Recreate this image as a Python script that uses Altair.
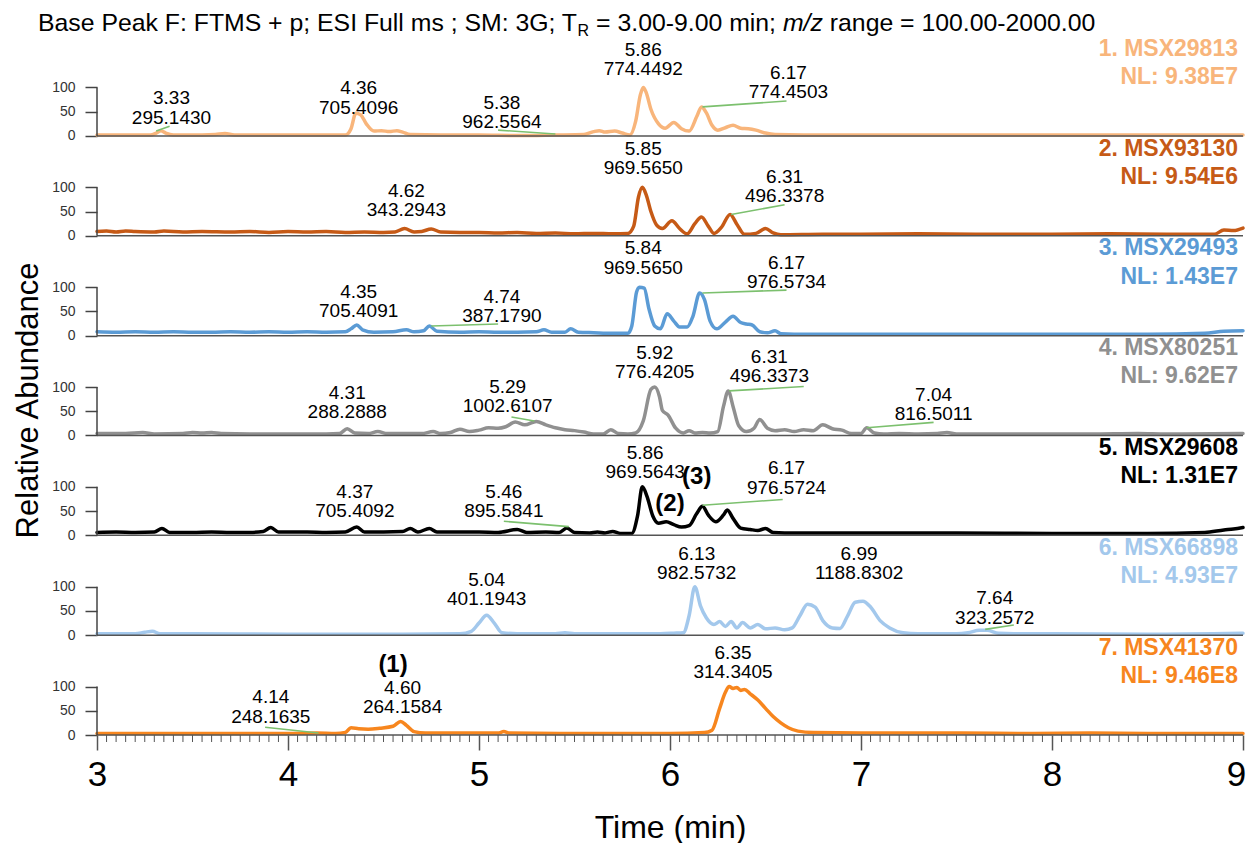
import altair as alt
import pandas as pd

FONT = "Liberation Sans"
S = 206            # data units between panel baselines
W, H = 1146, 695   # plot area
YTOP = 1434

# ---- chromatogram traces: (time, relative abundance) ----
P1 = [(3.00,2),(3.10,2),(3.20,2),(3.28,2),(3.31,6),(3.335,11),(3.36,6),(3.40,2),(3.55,2),(3.62,3),
      (3.67,5),(3.72,2),(3.90,2),(4.10,2),(4.30,2),(4.33,15),(4.355,47),(4.38,44),(4.41,25),(4.45,10),
      (4.49,11),(4.53,9),(4.57,11),(4.60,8),(4.64,3),(4.80,2),(5.00,2),(5.20,1),(5.40,2),(5.55,3),
      (5.60,9),(5.63,11),(5.66,8),(5.71,10),(5.75,6),(5.79,2),(5.82,30),(5.845,85),(5.86,100),(5.875,90),
      (5.90,55),(5.94,25),(5.975,16),(6.02,28),(6.06,15),(6.10,10),(6.14,40),(6.165,60),(6.19,48),(6.22,22),
      (6.25,12),(6.29,17),(6.33,22),(6.37,16),(6.41,15),(6.45,12),(6.50,6),(6.55,3),(6.70,2),(7.00,2),
      (7.50,2),(8.00,2),(8.50,2),(9.00,2)]
P2 = [(3.00,9),(3.05,10),(3.10,8),(3.15,10),(3.20,9),(3.30,8),(3.35,10),(3.45,8),(3.55,9),(3.70,8),
      (3.80,9),(3.90,7),(4.00,9),(4.10,8),(4.20,9),(4.30,7),(4.40,8),(4.50,7),(4.56,8),(4.61,15),
      (4.66,8),(4.70,9),(4.75,14),(4.80,8),(4.90,7),(5.00,7),(5.10,6),(5.20,7),(5.30,5),(5.40,6),
      (5.50,4),(5.60,5),(5.70,4),(5.78,5),(5.81,20),(5.835,80),(5.855,100),(5.875,85),(5.90,50),(5.93,22),
      (5.96,15),(6.01,31),(6.05,15),(6.09,4),(6.13,25),(6.165,39),(6.20,20),(6.23,5),(6.27,18),(6.315,44),
      (6.35,24),(6.39,3),(6.45,5),(6.50,15),(6.54,6),(6.58,2),(6.80,3),(7.00,3),(7.30,4),(7.60,3),
      (8.00,3),(8.30,4),(8.60,3),(8.85,3),(8.90,12),(8.95,11),(9.00,16)]
P3 = [(3.00,8),(3.10,7),(3.20,8),(3.30,7),(3.40,8),(3.50,7),(3.60,7),(3.70,8),(3.80,7),(3.90,8),
      (4.00,7),(4.10,8),(4.20,7),(4.30,8),(4.33,14),(4.36,22),(4.39,12),(4.45,7),(4.55,8),(4.62,12),
      (4.66,8),(4.71,10),(4.74,20),(4.78,9),(4.90,7),(5.00,8),(5.10,7),(5.20,7),(5.30,8),(5.34,12),
      (5.38,7),(5.45,7),(5.48,14),(5.52,7),(5.60,6),(5.70,5),(5.78,5),(5.80,20),(5.825,90),(5.84,100),
      (5.865,98),(5.89,55),(5.92,20),(5.95,14),(5.985,45),(6.02,30),(6.05,18),(6.09,18),(6.12,40),(6.155,88),
      (6.18,75),(6.21,30),(6.245,14),(6.29,28),(6.33,40),(6.37,27),(6.40,24),(6.43,22),(6.47,8),(6.51,6),
      (6.55,10),(6.58,4),(6.65,3),(7.00,3),(7.50,3),(8.00,3),(8.50,3),(8.80,5),(8.90,9),(9.00,10)]
P4 = [(3.00,4),(3.15,4),(3.24,6),(3.30,3),(3.45,4),(3.50,6),(3.55,5),(3.60,6),(3.65,4),(3.80,3),
      (4.00,3),(4.20,3),(4.27,4),(4.31,14),(4.35,5),(4.42,4),(4.47,8),(4.52,4),(4.70,4),(4.76,8),
      (4.80,4),(4.85,6),(4.90,13),(4.95,8),(5.00,11),(5.05,16),(5.10,15),(5.14,18),(5.19,28),(5.24,22),
      (5.30,29),(5.35,22),(5.40,16),(5.45,12),(5.50,10),(5.55,7),(5.60,3),(5.65,3),(5.69,12),(5.73,4),
      (5.78,3),(5.82,5),(5.86,30),(5.90,95),(5.92,100),(5.945,80),(5.96,52),(5.99,42),(6.03,15),(6.07,5),
      (6.10,10),(6.13,5),(6.17,6),(6.21,5),(6.25,8),(6.28,60),(6.305,92),(6.33,60),(6.36,20),(6.40,8),
      (6.44,15),(6.47,33),(6.51,15),(6.55,10),(6.60,12),(6.65,8),(6.70,12),(6.75,10),(6.80,22),(6.85,14),
      (6.90,11),(6.95,4),(7.00,4),(7.03,16),(7.07,5),(7.12,3),(7.20,4),(7.30,3),(7.40,4),(7.45,6),
      (7.50,3),(7.80,3),(8.20,3),(8.45,4),(8.60,3),(9.00,4)]
P5 = [(3.00,6),(3.10,7),(3.20,6),(3.30,7),(3.34,14),(3.38,6),(3.50,6),(3.60,7),(3.70,6),(3.80,6),
      (3.87,8),(3.91,16),(3.95,7),(4.10,7),(4.20,6),(4.30,7),(4.36,17),(4.40,7),(4.50,7),(4.60,8),
      (4.64,14),(4.68,7),(4.74,14),(4.78,7),(4.90,7),(5.00,7),(5.10,6),(5.20,12),(5.25,6),(5.35,7),
      (5.42,6),(5.46,15),(5.50,6),(5.58,5),(5.62,7),(5.66,5),(5.70,8),(5.74,4),(5.80,4),(5.83,40),
      (5.855,100),(5.88,80),(5.91,40),(5.94,25),(5.98,28),(6.02,22),(6.06,17),(6.10,20),(6.14,45),(6.17,60),
      (6.20,42),(6.24,28),(6.28,42),(6.30,52),(6.33,35),(6.37,15),(6.42,12),(6.46,10),(6.50,14),(6.54,6),
      (6.60,5),(7.00,5),(7.50,5),(8.00,4),(8.50,4),(8.80,6),(8.90,11),(8.95,13),(9.00,16)]
P6 = [(3.00,3),(3.20,3),(3.25,6),(3.29,8),(3.33,3),(3.50,3),(4.00,2),(4.50,2),(4.90,3),(4.96,8),
      (5.00,25),(5.04,41),(5.08,25),(5.12,5),(5.20,3),(5.40,3),(5.45,5),(5.50,3),(5.80,3),(5.95,3),
      (6.02,4),(6.07,5),(6.10,40),(6.13,100),(6.16,60),(6.19,36),(6.23,22),(6.26,28),(6.29,18),(6.32,28),
      (6.35,15),(6.38,26),(6.42,15),(6.46,22),(6.50,13),(6.55,15),(6.60,11),(6.64,15),(6.68,40),(6.72,64),
      (6.76,58),(6.80,30),(6.85,15),(6.89,14),(6.93,40),(6.97,68),(7.01,70),(7.05,58),(7.10,30),(7.15,15),
      (7.22,5),(7.30,3),(7.50,3),(7.56,5),(7.62,10),(7.66,10),(7.72,4),(7.80,3),(8.00,3),(8.50,2),(9.00,4)]
P7 = [(3.00,3),(3.50,3),(4.00,3),(4.15,4),(4.25,3),(4.30,5),(4.33,15),(4.37,13),(4.42,12),(4.48,14),
      (4.55,18),(4.59,28),(4.62,20),(4.66,7),(4.72,4),(5.00,4),(5.10,4),(5.13,7),(5.16,4),(5.50,3),
      (6.00,3),(6.18,5),(6.22,10),(6.26,55),(6.29,88),(6.31,100),(6.33,96),(6.35,98),(6.37,92),(6.39,94),
      (6.42,85),(6.46,72),(6.50,55),(6.54,38),(6.58,25),(6.62,15),(6.67,8),(6.75,5),(7.00,4),(7.50,4),
      (7.90,3),(8.20,4),(8.50,3),(9.00,3)]
TRACES = [P1, P2, P3, P4, P5, P6, P7]

NAMES = ["1. MSX29813", "2. MSX93130", "3. MSX29493", "4. MSX80251",
         "5. MSX29608", "6. MSX66898", "7. MSX41370"]
NLS = ["NL: 9.38E7", "NL: 9.54E6", "NL: 1.43E7", "NL: 9.62E7",
       "NL: 1.31E7", "NL: 4.93E7", "NL: 9.46E8"]
COLORS = ["#F8B57B", "#C65A16", "#5B9BD5", "#909090", "#000000", "#A3C8EC", "#F7861E"]

# peak annotations: (panel, time position, m/z line height, RT text, m/z text)
ANN = [(1, 5.86, 138, "5.86", "774.4492"), (1, 6.62, 90, "6.17", "774.4503"),
       (1, 4.37, 58, "4.36", "705.4096"), (1, 3.39, 38, "3.33", "295.1430"),
       (1, 5.12, 28, "5.38", "962.5564"),
       (2, 5.86, 140, "5.85", "969.5650"), (2, 6.60, 82, "6.31", "496.3378"),
       (2, 4.62, 53, "4.62", "343.2943"),
       (3, 5.86, 140, "5.84", "969.5650"), (3, 6.61, 110, "6.17", "976.5734"),
       (3, 4.37, 50, "4.35", "705.4091"), (3, 5.12, 40, "4.74", "387.1790"),
       (4, 5.92, 130, "5.92", "776.4205"), (4, 6.52, 122, "6.31", "496.3373"),
       (4, 4.31, 48, "4.31", "288.2888"), (4, 5.15, 60, "5.29", "1002.6107"),
       (4, 7.38, 44, "7.04", "816.5011"),
       (5, 5.87, 130, "5.86", "969.5643"), (5, 6.61, 98, "6.17", "976.5724"),
       (5, 4.35, 50, "4.37", "705.4092"), (5, 5.13, 50, "5.46", "895.5841"),
       (6, 6.14, 128, "6.13", "982.5732"), (6, 6.99, 128, "6.99", "1188.8302"),
       (6, 5.04, 74, "5.04", "401.1943"), (6, 7.70, 36, "7.64", "323.2572"),
       (7, 4.60, 58, "4.60", "264.1584"), (7, 3.91, 38, "4.14", "248.1635"),
       (7, 6.33, 130, "6.35", "314.3405")]
# green leader lines: (panel, t1, a1, t2, a2)
LEADERS = [(1, 3.31, 10, 3.38, 20), (1, 5.10, 12, 5.40, 4), (1, 6.17, 60, 6.61, 72),
           (2, 6.32, 44, 6.60, 64),
           (3, 6.17, 88, 6.61, 94), (3, 4.75, 20, 5.10, 24),
           (4, 6.31, 92, 6.70, 101), (4, 5.17, 38, 5.29, 30), (4, 7.03, 16, 7.38, 27),
           (5, 5.13, 29, 5.47, 18), (5, 6.17, 62, 6.59, 74),
           (6, 7.65, 12, 7.80, 21),
           (7, 3.88, 16, 4.16, 4)]
# bold compound markers: (panel, time, height, text)
MARKS = [(5, 6.00, 64, "(2)"), (5, 6.14, 120, "(3)"), (7, 4.55, 144, "(1)")]

X_MAJOR = [3, 4, 5, 6, 7, 8, 9]
X_MINOR = [round(3 + 0.05 * i, 2) for i in range(121) if i % 20 != 0]


def off(p):
    return (7 - p) * S


rows = []
for k, tr in enumerate(TRACES):
    for t, a in tr:
        rows.append({"panel": NAMES[k], "t": t, "y": a + off(k + 1)})
df = pd.DataFrame(rows)

panel_df = pd.DataFrame({
    "panel": NAMES, "nl": NLS,
    "base": [off(k + 1) for k in range(7)],
    "top": [off(k + 1) + 100 for k in range(7)],
    "yname": [off(k + 1) + 180 for k in range(7)],
    "ynl": [off(k + 1) + 122 for k in range(7)],
})
ann_df = pd.DataFrame([{"t": t, "ymz": u + off(p), "yrt": u + 40 + off(p), "rt": rt, "mz": mz}
                       for p, t, u, rt, mz in ANN])
lead_df = pd.DataFrame([{"t1": t1, "y1": a1 + off(p), "t2": t2, "y2": a2 + off(p)}
                        for p, t1, a1, t2, a2 in LEADERS])
mark_df = pd.DataFrame([{"t": t, "y": u + off(p), "txt": s} for p, t, u, s in MARKS])
minor_df = pd.DataFrame({"t": X_MINOR})
one = pd.DataFrame({"a": [0]})

YVALS = []
for k in range(7):
    YVALS += [off(k + 1), off(k + 1) + 50, off(k + 1) + 100]
YVALS = sorted(YVALS)

xs = alt.Scale(domain=[3, 9], nice=False, zero=False)
ys = alt.Scale(domain=[0, YTOP], nice=False, zero=False)
cs = alt.Scale(domain=NAMES, range=COLORS)

XAX = alt.Axis(
    values=X_MAJOR, format="d", tickSize=15, tickWidth=1.5, tickColor="#555555",
    labelFontSize=35, labelFont=FONT, labelColor="black", labelPadding=7,
    labelOffset={"condition": {"test": "datum.value >= 9", "value": -7}, "value": 0},
    labelFlush=False, labelOverlap=False,
    domain=False, grid=False, title="Time (min)", titleFont=FONT, titleFontSize=32,
    titleFontWeight="normal", titleColor="black", titleY=92, titleBaseline="middle")
YAX = alt.Axis(
    values=YVALS, labelExpr="'' + (datum.value % 206)", tickSize=12, tickWidth=1.5,
    tickColor="#444444", labelFontSize=14, labelFont=FONT, labelColor="#333333",
    labelPadding=10, labelFlush=False, labelOverlap=False,
    domain=False, grid=False, title="Relative Abundance",
    titleFont=FONT, titleFontSize=31, titleFontWeight="normal", titleColor="black",
    titleX=-69, titleY=360, titleAngle=270, titleAlign="center", titleBaseline="middle")


def X(f):
    return alt.X(f, scale=xs, axis=XAX)


def Y(f):
    return alt.Y(f, scale=ys, axis=YAX)


traces = alt.Chart(df).mark_line(strokeWidth=3.5, interpolate="monotone",
                                 strokeJoin="round", strokeCap="round").encode(
    x=X("t:Q"), y=Y("y:Q"),
    color=alt.Color("panel:N", scale=cs, legend=None),
    detail="panel:N",
)

baselines = alt.Chart(panel_df).mark_rule(color="#555555", strokeWidth=1.5).encode(
    x=alt.XDatum(3, scale=xs, axis=XAX), x2=alt.X2Datum(9), y=Y("base:Q"))
yaxislines = alt.Chart(panel_df).mark_rule(color="#444444", strokeWidth=1.5).encode(
    x=alt.XDatum(3, scale=xs, axis=XAX), y=Y("base:Q"), y2="top:Q")
minor = alt.Chart(minor_df).mark_rule(color="#555555", strokeWidth=1).encode(
    x=X("t:Q"), y=alt.value(H), y2=alt.value(H + 7))

leaders = alt.Chart(lead_df).mark_rule(color="#7CC06E", strokeWidth=1.6).encode(
    x=X("t1:Q"), x2="t2:Q", y=Y("y1:Q"), y2="y2:Q")

txt = dict(font=FONT, fontSize=19, color="black", align="center", baseline="middle")
rt_text = alt.Chart(ann_df).mark_text(**txt).encode(x=X("t:Q"), y=Y("yrt:Q"), text="rt:N")
mz_text = alt.Chart(ann_df).mark_text(**txt).encode(x=X("t:Q"), y=Y("ymz:Q"), text="mz:N")
marks = alt.Chart(mark_df).mark_text(font=FONT, fontSize=24, fontWeight="bold", color="black",
                                     align="center", baseline="middle").encode(
    x=X("t:Q"), y=Y("y:Q"), text="txt:N")

name_text = alt.Chart(panel_df).mark_text(font=FONT, fontSize=23, fontWeight="bold",
                                          align="right", baseline="middle", dx=-5).encode(
    x=alt.XDatum(9, scale=xs, axis=XAX), y=Y("yname:Q"),
    text="panel:N", color=alt.Color("panel:N", scale=cs, legend=None))
nl_text = alt.Chart(panel_df).mark_text(font=FONT, fontSize=23, fontWeight="bold",
                                        align="right", baseline="middle", dx=-5).encode(
    x=alt.XDatum(9, scale=xs, axis=XAX), y=Y("ynl:Q"),
    text="nl:N", color=alt.Color("panel:N", scale=cs, legend=None))

# title pieces (T subscript R, italic m/z)
TF = 24.8
tbase = -9
t1 = alt.Chart(one).mark_text(font=FONT, fontSize=TF, align="left", baseline="alphabetic",
                              text="Base Peak F: FTMS + p; ESI Full ms ; SM: 3G; T").encode(
    x=alt.value(-59), y=alt.value(tbase))
t2 = alt.Chart(one).mark_text(font=FONT, fontSize=16, align="left", baseline="alphabetic",
                              text="R").encode(x=alt.value(480.6), y=alt.value(tbase + 5))
t3 = alt.Chart(one).mark_text(font=FONT, fontSize=TF, align="left", baseline="alphabetic",
                              text="= 3.00-9.00 min;").encode(x=alt.value(499.1), y=alt.value(tbase))
t4 = alt.Chart(one).mark_text(font=FONT, fontSize=TF, fontStyle="italic", align="left",
                              baseline="alphabetic", text="m/z").encode(
    x=alt.value(685.9), y=alt.value(tbase))
t5 = alt.Chart(one).mark_text(font=FONT, fontSize=TF, align="left", baseline="alphabetic",
                              text="range = 100.00-2000.00").encode(
    x=alt.value(732.8), y=alt.value(tbase))

chart = alt.layer(
    traces, baselines, yaxislines, minor, leaders, rt_text, mz_text, marks,
    name_text, nl_text, t1, t2, t3, t4, t5
).properties(
    width=W, height=H,
    autosize=alt.AutoSizeParams(type="none"),
    padding={"left": 97, "top": 40, "right": 4, "bottom": 108},
).configure(background="white").configure_view(stroke=None)

chart.save("out.html", embed_options={"renderer": "svg", "actions": False})
